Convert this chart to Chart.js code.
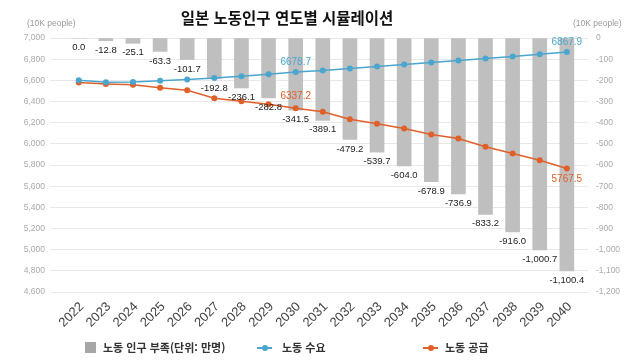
<!DOCTYPE html>
<html lang="ko">
<head>
<meta charset="utf-8">
<script src="https://cdn.jsdelivr.net/npm/chart.js@4"></script>
<style>
  html, body { margin: 0; padding: 0; background: #fff; }
  #wrap { position: relative; width: 640px; height: 363px; overflow: hidden; }
  #grafico { position: absolute; left: 0; top: 0; }
  .titulo { position: absolute; left: 0; width: 574px; top: 6px; text-align: center;
    font: bold 15.5px "Noto Sans CJK KR", sans-serif; color: #111; }
  .unidade { position: absolute; top: 18px; font: 8.5px "Liberation Sans", Arial, sans-serif; color: #999; }
  .leg { position: absolute; top: 339px; font: bold 11px "Noto Sans CJK KR", sans-serif; color: #333; line-height: 16px; }
  .quadrado { position: absolute; left: 85px; top: 342px; width: 10.5px; height: 10.5px; background: #a6a6a6; }
  .marca { position: absolute; top: 347px; height: 1.5px; width: 15px; }
  .marca i { position: absolute; left: 5px; top: -2.5px; width: 6px; height: 6px; border-radius: 50%; }
</style>
</head>
<body>
<div id="wrap">
  <canvas id="grafico" width="640" height="363"></canvas>
  <div class="titulo">일본 노동인구 연도별 시뮬레이션</div>
  <div class="unidade" style="left:27px">(10K people)</div>
  <div class="unidade" style="left:573px">(10K people)</div>

  <div class="quadrado"></div>
  <div class="leg" style="left:103px">노동 인구 부족(단위: 만명)</div>
  <div class="marca" style="left:257px; background:#4ba6cf"><i style="background:#4ba6cf"></i></div>
  <div class="leg" style="left:282px">노동 수요</div>
  <div class="marca" style="left:423px; background:#e0602a"><i style="background:#e0602a"></i></div>
  <div class="leg" style="left:445px">노동 공급</div>
</div>
<script>
// dados
const anos = [2022, 2023, 2024, 2025, 2026, 2027, 2028, 2029, 2030, 2031, 2032, 2033, 2034, 2035, 2036, 2037, 2038, 2039, 2040]
const deficit = [0.0, -12.8, -25.1, -63.3, -101.7, -192.8, -236.1, -282.8, -341.5, -389.1, -479.2, -539.7, -604.0, -678.9, -736.9, -833.2, -916.0, -1000.7, -1100.4]
const demanda = [6601, 6582, 6585, 6595, 6608, 6623, 6639, 6658, 6678.7, 6693, 6711, 6730, 6749, 6768, 6787, 6806, 6825, 6846, 6867.9]
const oferta = [6579, 6566, 6558, 6530, 6507, 6430, 6403, 6375, 6337.2, 6304, 6232, 6190, 6145, 6089, 6050, 5973, 5909, 5845, 5767.5]
const indicesRotulo = [8, 18] // só 2030 e 2040 têm rótulo nas linhas

const azul = '#4ba6cf'
const laranja = '#e0602a'
const fonteNum = '"Liberation Sans", Arial, sans-serif'

function pontos(valores) {
    return anos.map((ano, i) => ({ x: ano, y: valores[i] }))
}

//plugin para escrever os valores
const rotulos = {
    id: 'rotulos',
    afterDatasetsDraw(chart) {
        const c = chart.ctx
        c.save()
        c.font = '9.5px ' + fonteNum
        c.textAlign = 'center'
        c.textBaseline = 'middle'

        c.fillStyle = '#222'
        chart.getDatasetMeta(0).data.forEach((barra, i) => {
            const txt = deficit[i].toLocaleString('en-US', { minimumFractionDigits: 1, maximumFractionDigits: 1 })
            c.fillText(txt, barra.x, barra.y + 9.5)
        })

        c.font = '10px ' + fonteNum
        const metaDemanda = chart.getDatasetMeta(1).data
        const metaOferta = chart.getDatasetMeta(2).data
        indicesRotulo.forEach((i, k) => {
            c.fillStyle = azul
            c.fillText(demanda[i].toFixed(1), metaDemanda[i].x, metaDemanda[i].y - 9.5)
            c.fillStyle = laranja
            const dy = k === indicesRotulo.length - 1 ? 10.5 : -11.5
            c.fillText(oferta[i].toFixed(1), metaOferta[i].x, metaOferta[i].y + dy)
        })
        c.restore()
    }
}

new Chart(document.getElementById('grafico'), {
    type: 'bar',
    data: {
        datasets: [{
            label: '노동 인구 부족(단위: 만명)',
            data: pontos(deficit),
            yAxisID: 'y1',
            backgroundColor: '#bfbfbf',
            barThickness: 14,
            order: 3
        }, {
            type: 'line',
            label: '노동 수요',
            data: pontos(demanda),
            yAxisID: 'y',
            borderColor: azul,
            backgroundColor: azul,
            borderWidth: 1.5,
            pointRadius: 3,
            pointBorderWidth: 0,
            order: 1
        }, {
            type: 'line',
            label: '노동 공급',
            data: pontos(oferta),
            yAxisID: 'y',
            borderColor: laranja,
            backgroundColor: laranja,
            borderWidth: 1.5,
            pointRadius: 3,
            pointBorderWidth: 0,
            order: 2
        }]
    },
    options: {
        responsive: false,
        animation: false,
        layout: { padding: { top: 38, left: 0, right: 0, bottom: 0 } },
        plugins: {
            legend: { display: false },
            tooltip: { enabled: false }
        },
        scales: {
            x: {
                type: 'linear',
                offset: false,
                min: 2020.94,
                max: 2040.78,
                grid: { display: false },
                border: { display: false },
                afterBuildTicks: (scale) => { scale.ticks = anos.map(v => ({ value: v })) },
                afterFit: (scale) => { scale.height = 71 },
                ticks: {
                    minRotation: 45,
                    maxRotation: 45,
                    padding: -1,
                    labelOffset: 3,
                    color: '#444',
                    font: { size: 13, family: fonteNum },
                    callback: (v) => String(v)
                }
            },
            y: {
                position: 'left',
                min: 4600,
                max: 7000,
                grid: { color: '#e8e8e8', drawTicks: false, lineWidth: 1 },
                border: { display: false },
                afterFit: (scale) => { scale.width = 50 },
                ticks: {
                    stepSize: 200,
                    padding: 5,
                    color: '#aaa',
                    font: { size: 8.5, family: fonteNum }
                }
            },
            y1: {
                position: 'right',
                min: -1200,
                max: 0,
                grid: { drawOnChartArea: false, drawTicks: false },
                border: { display: false },
                afterFit: (scale) => { scale.width = 52 },
                ticks: {
                    stepSize: 100,
                    padding: 8,
                    color: '#aaa',
                    font: { size: 8.5, family: fonteNum }
                }
            }
        }
    },
    plugins: [rotulos]
})
</script>
</body>
</html>
